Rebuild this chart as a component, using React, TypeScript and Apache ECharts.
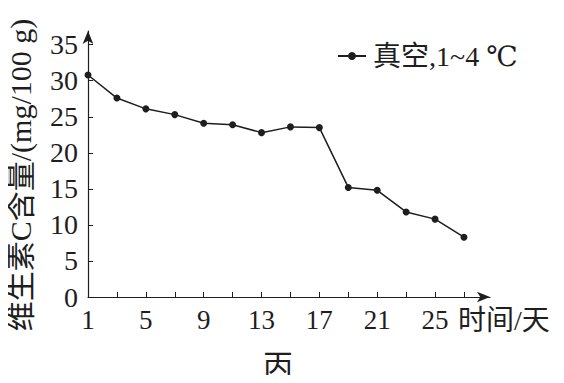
import React, { useEffect, useRef } from "react";
import * as echarts from "echarts";

const days = [1, 3, 5, 7, 9, 11, 13, 15, 17, 19, 21, 23, 25, 27];
const vitaminC = [30.8, 27.6, 26.1, 25.3, 24.1, 23.9, 22.8, 23.6, 23.5, 15.2, 14.8, 11.8, 10.8, 8.3];
const xLabelValues = [1, 5, 9, 13, 17, 21, 25];
const xTickValues = [3, 5, 7, 9, 11, 13, 15, 17, 19, 21, 23, 25, 27];
const yLabelValues = [0, 5, 10, 15, 20, 25, 30, 35];
const yTickValues = [5, 10, 15, 20, 25, 30, 35];
const seriesName = "真空,1~4 ℃";
const xAxisTitle = "时间/天";
const yAxisTitle = "维生素C含量/(mg/100 g)";
const panelLabel = "丙";

const FONT = "Liberation Serif, DejaVu Serif, Noto Sans CJK SC, serif";
const INK = "#1e1e1e";

export default function App() {
  const ref = useRef<HTMLDivElement>(null);
  useEffect(() => {
    if (!ref.current) return;
    const chart = echarts.init(ref.current, undefined, { renderer: "svg" });
    chart.setOption({
      animation: false,
      backgroundColor: "#ffffff",
      textStyle: { fontFamily: FONT },
      grid: { left: 88, top: 31, width: 402, height: 266, containLabel: false },
      legend: {
        data: [seriesName],
        left: 332,
        top: 37,
        itemWidth: 28,
        itemHeight: 10,
        textStyle: { fontFamily: FONT, fontSize: 28, color: INK, padding: [0, 0, 0, 2] },
      },
      xAxis: {
        type: "value",
        min: 1,
        max: 28.8,
        axisLine: {
          show: true,
          symbol: ["none", "arrow"],
          symbolSize: [8, 13],
          lineStyle: { color: INK, width: 1.2 },
        },
        axisTick: {
          show: true,
          inside: true,
          length: 5,
          customValues: xTickValues,
          lineStyle: { color: INK, width: 1 },
        },
        axisLabel: {
          customValues: xLabelValues,
          fontFamily: FONT,
          fontSize: 27,
          color: INK,
          margin: 9,
        },
        splitLine: { show: false },
      },
      yAxis: {
        type: "value",
        min: 0,
        max: 36.9,
        axisLine: {
          show: true,
          symbol: ["none", "arrow"],
          symbolSize: [8, 13],
          lineStyle: { color: INK, width: 1.2 },
        },
        axisTick: {
          show: true,
          inside: true,
          length: 5,
          customValues: yTickValues,
          lineStyle: { color: INK, width: 1 },
        },
        axisLabel: {
          customValues: yLabelValues,
          fontFamily: FONT,
          fontSize: 28,
          color: INK,
          margin: 10,
        },
        splitLine: { show: false },
      },
      graphic: [
        {
          type: "text",
          x: 20,
          y: 175,
          rotation: Math.PI / 2,
          style: {
            text: yAxisTitle,
            fontFamily: FONT,
            fontSize: 30,
            fill: INK,
            align: "center",
            verticalAlign: "middle",
          },
        },
        {
          type: "text",
          x: 458,
          y: 320,
          style: {
            text: xAxisTitle,
            fontFamily: FONT,
            fontSize: 28,
            fill: INK,
            align: "left",
            verticalAlign: "middle",
          },
        },
        {
          type: "text",
          x: 278,
          y: 365,
          style: {
            text: panelLabel,
            fontFamily: FONT,
            fontSize: 30,
            fill: INK,
            align: "center",
            verticalAlign: "middle",
          },
        },
      ],
      series: [
        {
          name: seriesName,
          type: "line",
          data: days.map((d, i) => [d, vitaminC[i]]),
          symbol: "circle",
          symbolSize: 7,
          lineStyle: { color: INK, width: 1.5 },
          itemStyle: { color: INK },
        },
      ],
    });
    return () => chart.dispose();
  }, []);
  return <div ref={ref} style={{ width: 564, height: 383, margin: -8 }} />;
}
